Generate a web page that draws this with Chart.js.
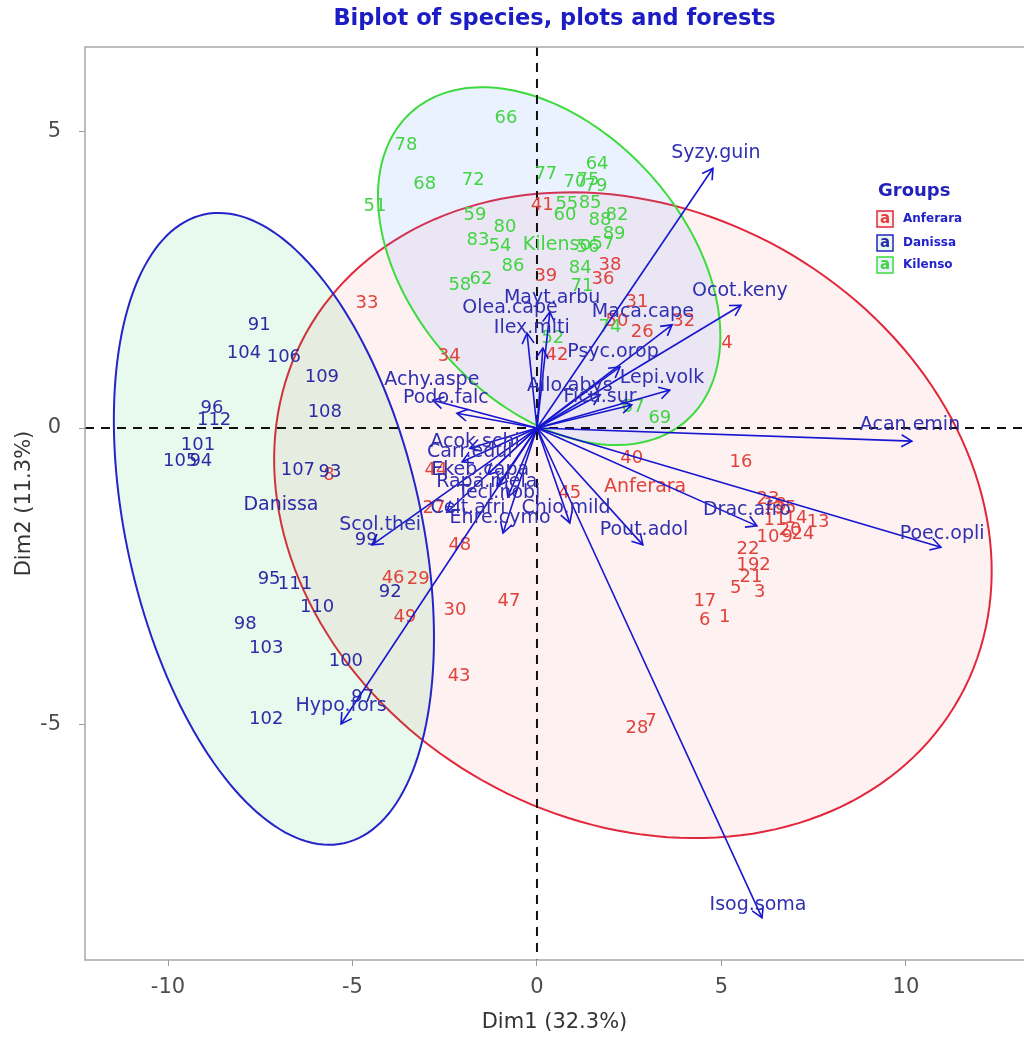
<!DOCTYPE html>
<html>
<head>
<meta charset="utf-8">
<title>Biplot of species, plots and forests</title>
<script src="https://cdn.jsdelivr.net/npm/chart.js@4.4.0/dist/chart.umd.min.js"></script>
<style>
  html, body { margin: 0; padding: 0; background: #fff; }
</style>
</head>
<body>
<canvas id="biplot" width="1024" height="1037"></canvas>
<script>
// axis ticks
var xTicks = [-10, -5, 0, 5, 10];
var yTicks = [-5, 0, 5];

// forests (groups)
var groupNames = ['Anferara', 'Danissa', 'Kilenso'];
var groupCx = [2.93, -6.94, 0.54];
var groupCy = [-0.99, -1.30, 3.09];

// concentration ellipses: centre + two half axes, in Dim units
var ellCx = [2.60, -7.13, 0.33];
var ellCy = [-1.47, -1.70, 2.73];
var ellAx = [8.85, 1.90, 3.73];
var ellAy = [-3.08, -5.30, -2.60];
var ellBx = [-4.03, -3.90, -2.76];
var ellBy = [-4.49, -0.54, -1.53];

// plot scores, Anferara
var anfLabels = ['33','34','39','41','38','36','31','50','26','32','4','42','40','16','44','45','27','48','46','29','49','30','47','43','28','7','23','11','14','13','10','9','24','35','18','20','22','19','2','21','5','3','17','6','1','8'];
var anfX = [-4.61,-2.38,0.24,0.14,1.98,1.79,2.71,2.17,2.85,3.98,5.15,0.54,2.57,5.53,-2.74,0.89,-2.79,-2.09,-3.90,-3.22,-3.58,-2.22,-0.76,-2.11,2.71,3.09,6.26,6.45,7.02,7.62,6.26,6.78,7.21,6.72,6.45,6.86,5.72,5.72,6.18,5.80,5.39,6.04,4.55,4.55,5.09,-5.64];
var anfY = [2.11,1.21,2.55,3.76,2.75,2.50,2.12,1.80,1.62,1.80,1.43,1.23,-0.51,-0.57,-0.71,-1.10,-1.35,-1.97,-2.53,-2.55,-3.19,-3.07,-2.93,-4.18,-5.06,-4.94,-1.21,-1.55,-1.52,-1.59,-1.84,-1.84,-1.80,-1.35,-1.30,-1.72,-2.04,-2.31,-2.31,-2.51,-2.70,-2.77,-2.92,-3.24,-3.19,-0.80];

// plot scores, Danissa
var danLabels = ['91','104','106','109','108','96','112','101','105','94','107','93','99','95','111','110','92','98','103','100','97','102'];
var danX = [-7.53,-7.94,-6.86,-5.83,-5.75,-8.81,-8.75,-9.19,-9.67,-9.11,-6.48,-5.61,-4.63,-7.26,-6.56,-5.96,-3.98,-7.91,-7.34,-5.18,-4.72,-7.34];
var danY = [1.74,1.26,1.20,0.86,0.27,0.34,0.13,-0.29,-0.56,-0.56,-0.71,-0.74,-1.89,-2.55,-2.63,-3.02,-2.77,-3.31,-3.71,-3.93,-4.54,-4.91];

// plot scores, Kilenso
var kilLabels = ['66','78','68','72','51','77','64','70','75','79','55','85','60','88','82','89','59','80','83','54','56','57','86','84','58','62','71','74','52','67','69'];
var kilX = [-0.84,-3.55,-3.04,-1.73,-4.39,0.24,1.63,1.03,1.38,1.60,0.81,1.44,0.76,1.71,2.17,2.09,-1.68,-0.87,-1.60,-1.00,1.38,1.79,-0.65,1.17,-2.09,-1.52,1.22,1.98,0.43,2.60,3.33];
var kilY = [5.23,4.77,4.11,4.18,3.74,4.27,4.44,4.15,4.18,4.08,3.78,3.79,3.59,3.51,3.58,3.27,3.58,3.39,3.17,3.07,3.05,3.09,2.73,2.70,2.41,2.51,2.39,1.69,1.52,0.35,0.17];

// species loadings (arrow tips) and label positions
var spNames = ['Syzy.guin','Ocot.keny','Maca.cape','Psyc.orop','Lepi.volk','Allo.abys','Ficu.sur','Mayt.arbu','Olea.cape','Ilex.miti','Achy.aspe','Podo.falc','Acan.emin','Poec.opli','Drac.afro','Pout.adol','Chio.mild','Isog.soma','Hypo.fors','Scol.thei','Celt.afri','Ehre.cymo','Acok.schi','Carr.edul','Ekeb.capa','Rapa.mela','Tecl.nobi'];
var spX = [4.77,5.53,3.66,2.25,3.60,1.71,2.57,0.35,-0.27,0.16,-2.82,-2.17,10.16,10.95,5.96,2.87,0.89,6.10,-5.31,-4.47,-2.44,-0.92,-1.82,-2.03,-1.33,-1.08,-0.79];
var spY = [4.38,2.07,1.74,1.03,0.64,0.56,0.39,1.96,1.60,1.35,0.47,0.25,-0.22,-2.01,-1.65,-1.97,-1.60,-8.26,-4.99,-1.97,-1.42,-1.77,-0.34,-0.57,-0.78,-0.98,-1.16];
var spLabX = [4.85,5.50,2.87,2.06,3.39,0.89,1.71,0.41,-0.73,-0.14,-2.85,-2.47,10.11,10.98,5.69,2.90,0.79,5.99,-5.31,-4.25,-1.87,-1.00,-1.68,-1.82,-1.54,-1.36,-1.03];
var spLabY = [4.64,2.31,1.96,1.28,0.84,0.71,0.52,2.19,2.02,1.69,0.81,0.51,0.05,-1.79,-1.38,-1.72,-1.35,-8.04,-4.69,-1.64,-1.35,-1.52,-0.24,-0.40,-0.71,-0.91,-1.10];

// colours
var groupLine = ['#e2263b', '#2424c8', '#3ddb3d'];
var groupFill = ['rgba(240,80,80,0.08)', 'rgba(0,186,56,0.09)', 'rgba(97,156,255,0.13)'];
var groupText = ['#e0433c', '#2b2ba6', '#43d443'];
var arrowColor = '#1616d0';
var speciesText = '#3030b0';
var FONT = '"DejaVu Sans", "Liberation Sans", sans-serif';

function scores(labels, xs, ys) {
  return labels.map(function(l, i) { return {x: xs[i], y: ys[i], label: l}; });
}

var datasets = [
  {label: 'Anferara', data: scores(anfLabels, anfX, anfY)},
  {label: 'Danissa', data: scores(danLabels, danX, danY)},
  {label: 'Kilenso', data: scores(kilLabels, kilX, kilY)},
  {label: 'centroids', data: scores(groupNames, groupCx, groupCy)}
].map(function(d) {
  d.type = 'scatter';
  d.pointRadius = 0;
  d.showLine = false;
  return d;
});

// one dataset per species arrow (from origin to loading)
spNames.forEach(function(name, i) {
  datasets.push({
    type: 'line',
    label: name,
    data: [{x: 0, y: 0}, {x: spX[i], y: spY[i]}],
    borderColor: arrowColor,
    borderWidth: 1.6,
    pointRadius: 0,
    fill: false
  });
});

function ellipsePath(c, sx, sy, g) {
  c.beginPath();
  for (var k = 0; k <= 180; k++) {
    var t = k / 180 * 2 * Math.PI;
    var px = sx.getPixelForValue(ellCx[g] + ellAx[g] * Math.cos(t) + ellBx[g] * Math.sin(t));
    var py = sy.getPixelForValue(ellCy[g] + ellAy[g] * Math.cos(t) + ellBy[g] * Math.sin(t));
    if (k === 0) c.moveTo(px, py); else c.lineTo(px, py);
  }
  c.closePath();
}

// ellipses, zero lines and text labels under the arrows
var biplotLayers = {
  id: 'biplotLayers',
  beforeDatasetsDraw: function(chart) {
    var c = chart.ctx, a = chart.chartArea;
    var sx = chart.scales.x, sy = chart.scales.y;
    c.save();
    c.beginPath();
    c.rect(a.left, a.top, a.right - a.left, a.bottom - a.top);
    c.clip();

    for (var g = 0; g < groupNames.length; g++) {
      ellipsePath(c, sx, sy, g);
      c.fillStyle = groupFill[g];
      c.fill();
      c.lineWidth = 2;
      c.strokeStyle = groupLine[g];
      c.stroke();
    }

    // dashed lines through origin
    c.setLineDash([9, 7]);
    c.lineWidth = 2;
    c.strokeStyle = '#111';
    c.beginPath();
    c.moveTo(sx.getPixelForValue(0), a.top);
    c.lineTo(sx.getPixelForValue(0), a.bottom);
    c.moveTo(a.left, sy.getPixelForValue(0));
    c.lineTo(a.right, sy.getPixelForValue(0));
    c.stroke();
    c.setLineDash([]);

    // plot numbers
    c.font = '18px ' + FONT;
    c.textAlign = 'center';
    c.textBaseline = 'middle';
    for (var d = 0; d < 3; d++) {
      c.fillStyle = groupText[d];
      chart.getDatasetMeta(d).data.forEach(function(pt, i) {
        c.fillText(chart.data.datasets[d].data[i].label, pt.x, pt.y);
      });
    }
    // forest names at centroids
    c.font = '19px ' + FONT;
    chart.getDatasetMeta(3).data.forEach(function(pt, i) {
      c.fillStyle = groupText[i];
      c.fillText(groupNames[i], pt.x, pt.y);
    });
    c.restore();
  },
  afterDatasetsDraw: function(chart) {
    var c = chart.ctx, a = chart.chartArea;
    var sx = chart.scales.x, sy = chart.scales.y;
    c.save();

    // arrow heads
    c.strokeStyle = arrowColor;
    c.lineWidth = 1.6;
    spNames.forEach(function(name, i) {
      var meta = chart.getDatasetMeta(4 + i);
      var p0 = meta.data[0], p1 = meta.data[1];
      var ang = Math.atan2(p1.y - p0.y, p1.x - p0.x);
      var len = 12;
      c.beginPath();
      c.moveTo(p1.x - len * Math.cos(ang - Math.PI / 6), p1.y - len * Math.sin(ang - Math.PI / 6));
      c.lineTo(p1.x, p1.y);
      c.lineTo(p1.x - len * Math.cos(ang + Math.PI / 6), p1.y - len * Math.sin(ang + Math.PI / 6));
      c.stroke();
    });

    // species names
    c.font = '19px ' + FONT;
    c.textAlign = 'center';
    c.textBaseline = 'middle';
    c.fillStyle = speciesText;
    spNames.forEach(function(name, i) {
      c.fillText(name, sx.getPixelForValue(spLabX[i]), sy.getPixelForValue(spLabY[i]));
    });

    // panel frame
    c.strokeStyle = '#a8a8a8';
    c.lineWidth = 1.5;
    c.beginPath();
    c.moveTo(a.right + 2, a.top);
    c.lineTo(a.left, a.top);
    c.lineTo(a.left, a.bottom);
    c.lineTo(a.right + 2, a.bottom);
    c.stroke();

    // legend
    c.textAlign = 'left';
    c.fillStyle = '#2222bb';
    c.font = 'bold 18px ' + FONT;
    c.fillText('Groups', 878, 191);
    var keyY = [219, 243, 265];
    groupNames.forEach(function(name, i) {
      c.fillStyle = groupFill[i];
      c.fillRect(877, keyY[i] - 8, 16, 16);
      c.strokeStyle = groupLine[i];
      c.lineWidth = 1.5;
      c.strokeRect(877, keyY[i] - 8, 16, 16);
      c.fillStyle = groupText[i];
      c.font = 'bold 15px ' + FONT;
      c.textAlign = 'center';
      c.fillText('a', 885, keyY[i]);
      c.textAlign = 'left';
      c.fillStyle = '#2222cc';
      c.font = 'bold 12px ' + FONT;
      c.fillText(name, 903, keyY[i]);
    });
    c.restore();
  }
};

var tickFont = {family: FONT, size: 21};

new Chart(document.getElementById('biplot'), {
  type: 'scatter',
  data: {datasets: datasets},
  options: {
    responsive: false,
    animation: false,
    events: [],
    layout: {padding: 0},
    plugins: {
      legend: {display: false},
      tooltip: {enabled: false},
      title: {
        display: true,
        text: 'Biplot of species, plots and forests',
        color: '#1c1cc4',
        fullSize: false,
        font: {family: FONT, size: 22.5, weight: 'bold'},
        padding: {top: 6, bottom: 14}
      }
    },
    scales: {
      x: {
        type: 'linear',
        min: -12.25,
        max: 13.2,
        afterBuildTicks: function(s) { s.ticks = xTicks.map(function(v) { return {value: v}; }); },
        afterFit: function(s) { s.height = 77; },
        ticks: {color: '#4d4d4d', font: tickFont, padding: 9},
        grid: {display: true, drawOnChartArea: false, color: '#999', tickLength: 6},
        border: {display: false},
        title: {display: true, text: 'Dim1 (32.3%)', color: '#333', font: tickFont, padding: {top: 2, bottom: 2}}
      },
      y: {
        type: 'linear',
        min: -8.97,
        max: 6.425,
        afterBuildTicks: function(s) { s.ticks = yTicks.map(function(v) { return {value: v}; }); },
        afterFit: function(s) { s.width = 85; },
        ticks: {color: '#4d4d4d', font: tickFont, padding: 18},
        grid: {display: true, drawOnChartArea: false, color: '#999', tickLength: 6},
        border: {display: false},
        title: {display: true, text: 'Dim2 (11.3%)', color: '#333', font: tickFont, padding: {top: 12, bottom: 12}}
      }
    }
  },
  plugins: [biplotLayers]
});
</script>
</body>
</html>
